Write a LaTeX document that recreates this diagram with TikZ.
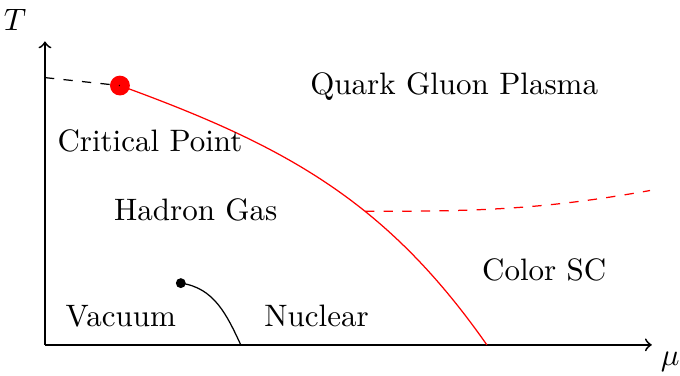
\documentclass[tikz,border=0pt]{standalone}
\usepackage{tikz}
\usetikzlibrary{arrows,positioning,calc}

\begin{document}
\begin{tikzpicture}[
        axis/.style={->, semithick},
        phase/.style={align=center},
        crossover/.style={dashed, black},
        firstorder/.style={red},
        csc/.style={red, dashed},
        critdot/.style={circle, fill=red, inner sep=0pt, minimum size=6.4pt},
        nucdot/.style={circle, fill=black, inner sep=0pt, minimum size=3.2pt}
    ]
    \useasboundingbox (-0.51,-0.35) rectangle (7.20,3.91);

    % Axes
    \coordinate (origin) at (0,0);
    \coordinate (ttop) at (0,3.44);
    \coordinate (mright) at (6.88,0);
    \draw[axis] (origin) -- (ttop);
    \draw[axis] (origin) -- (mright);
    \node (tlabel) at (-0.34,3.68) {$T$};
    \node (mlabel) at (7.09,-0.19) {$\mu$};

    % Points
    \coordinate (tc) at (0,3.03);
    \node[critdot] (cp) at (0.85,2.94) {};
    \coordinate (tend) at (5.01,0);
    \coordinate (cscend) at (6.86,1.75);
    \node[nucdot] (nuc) at (1.54,0.70) {};
    \coordinate (nucend) at (2.22,0);

    % Lines
    \draw[crossover] (tc) -- (cp.center);
    \draw[firstorder] (cp.center) to[out=-20, in=125]
        node[coordinate, pos=0.61] (cross) {} (tend);
    \draw[csc] (cross) to[out=0, in=190] (cscend);
    \draw (nuc.center) to[out=-8, in=115] (nucend);

    % Phases
    \node[phase] (qgp) at (4.64,2.93) {Quark Gluon Plasma};
    \node[phase] (critical) at (1.19,2.31) {Critical Point};
    \node[phase] (hadron) at (1.71,1.53) {Hadron Gas};
    \node[phase] (colorsc) at (5.66,0.85) {Color SC};
    \node[phase] (vacuum) at (0.86,0.33) {Vacuum};
    \node[phase] (nuclear) at (3.08,0.33) {Nuclear};

\end{tikzpicture}
\end{document}
